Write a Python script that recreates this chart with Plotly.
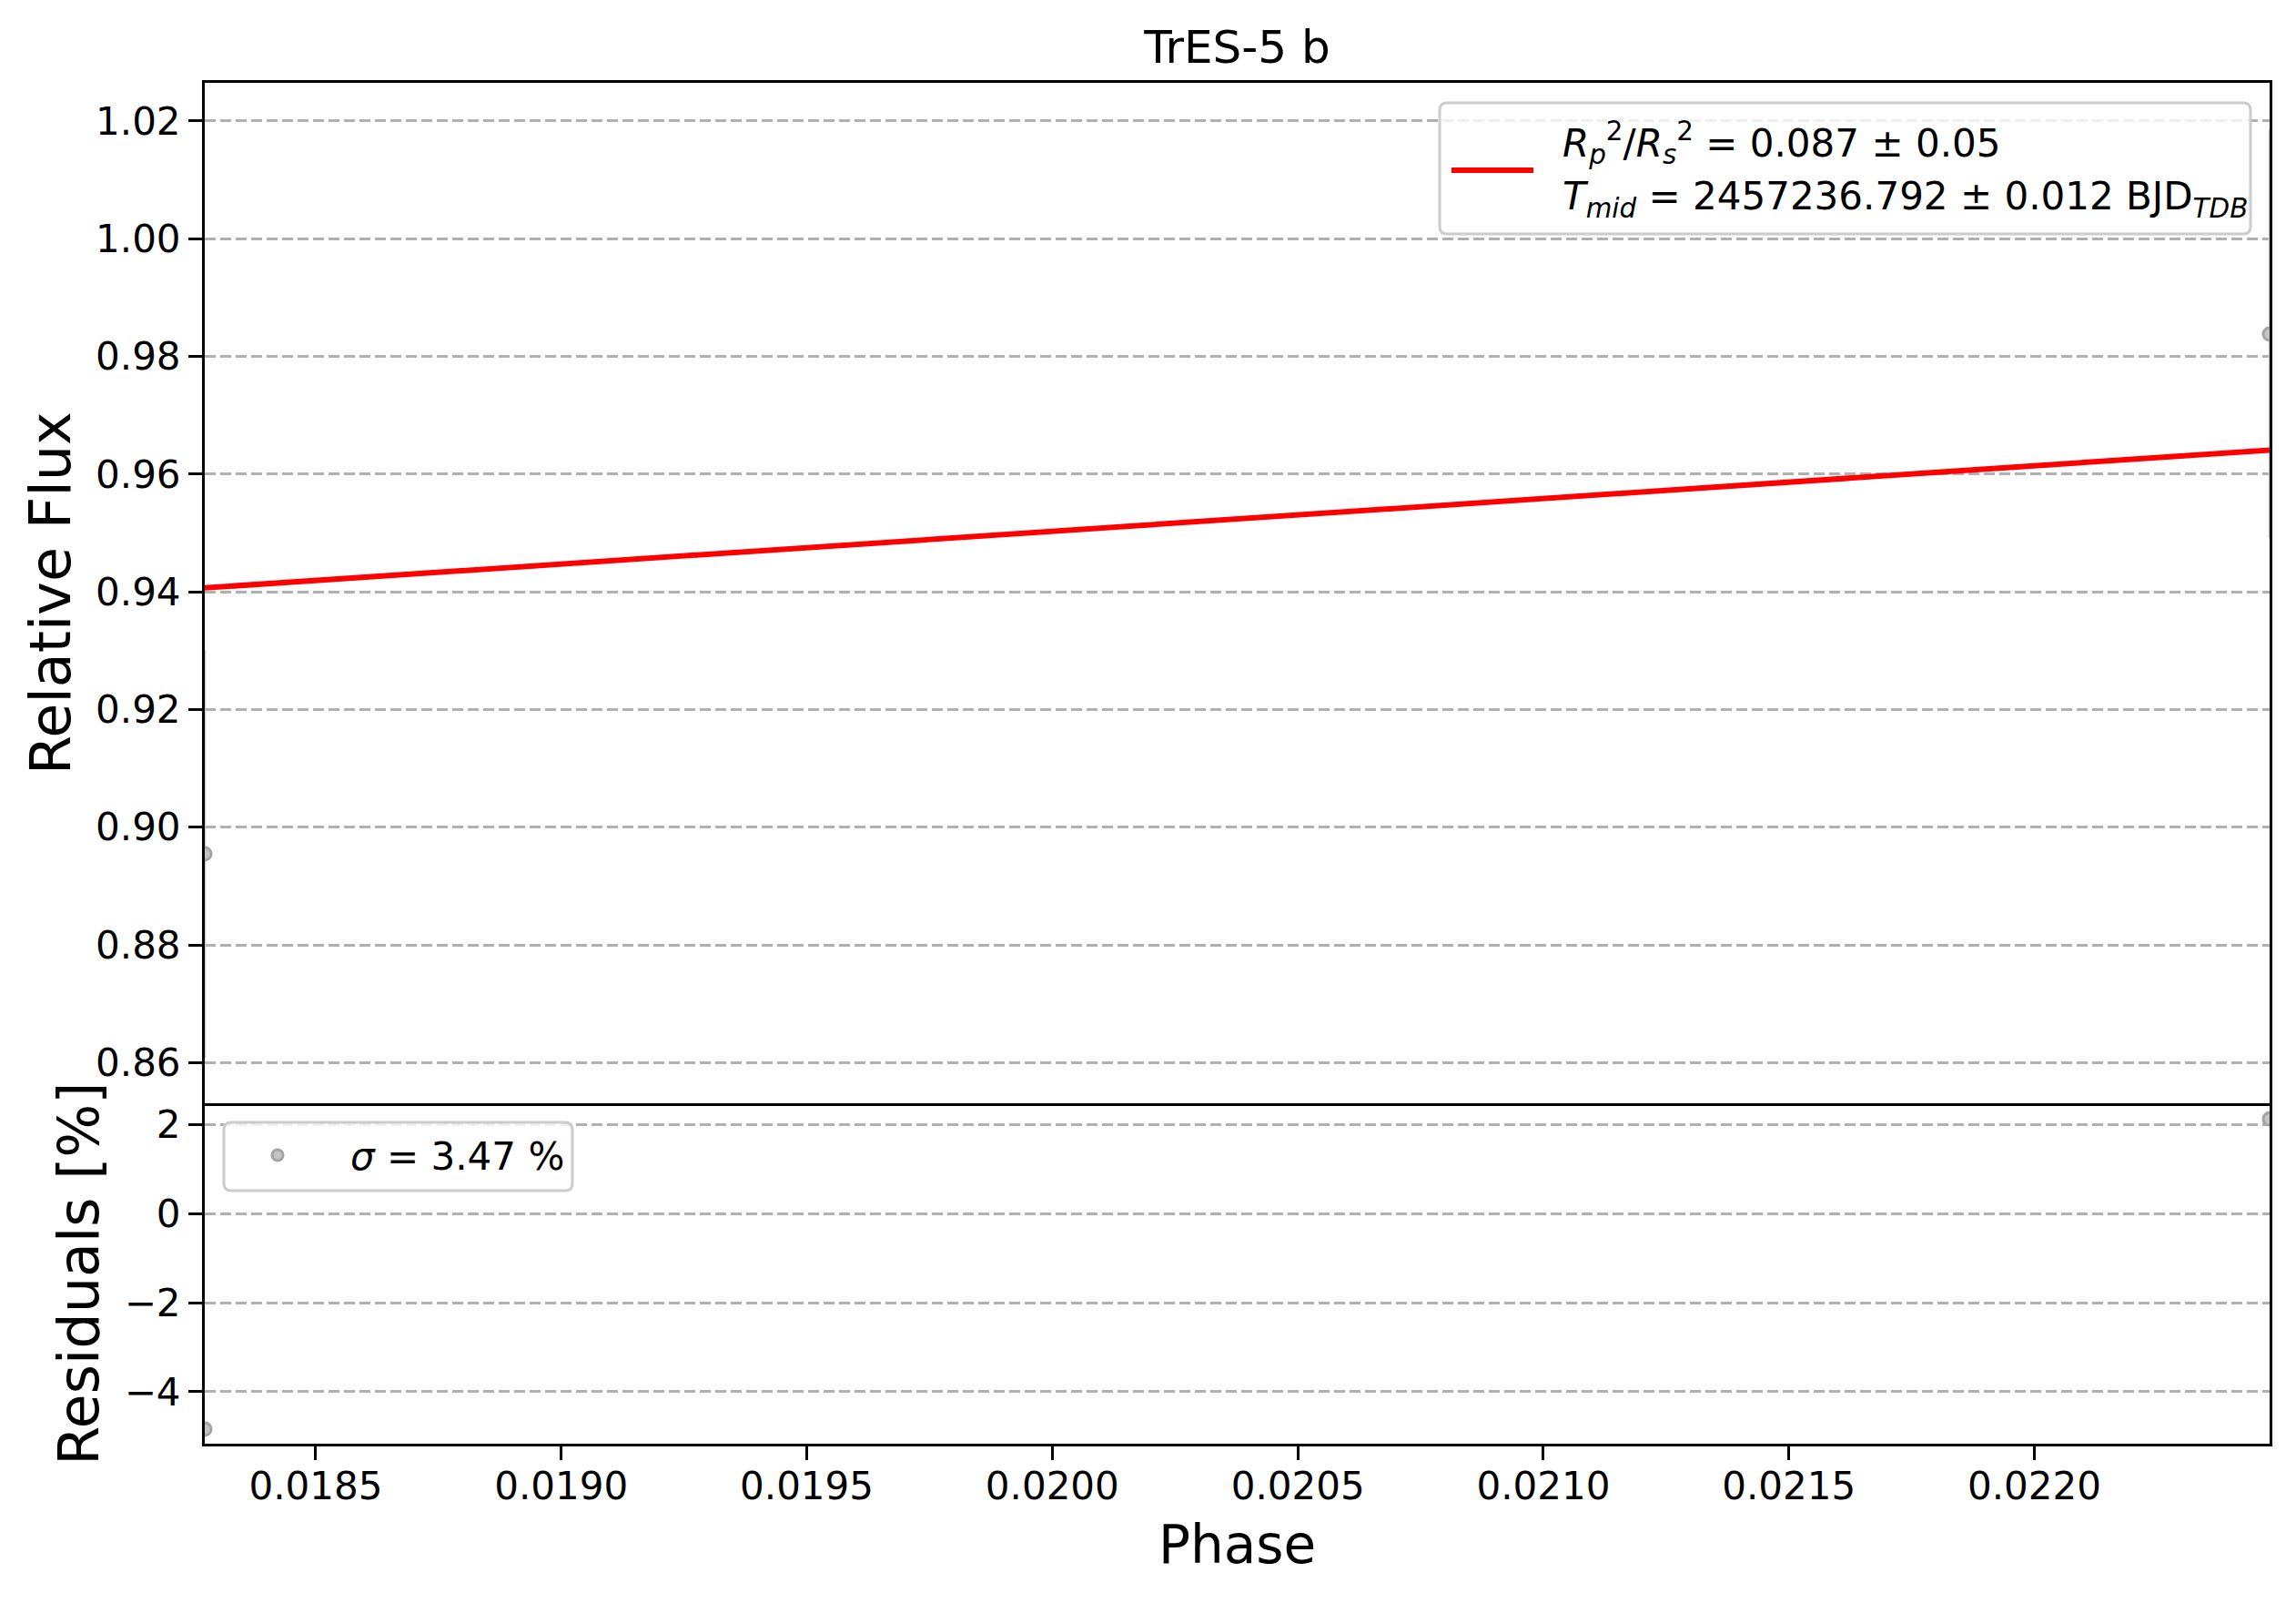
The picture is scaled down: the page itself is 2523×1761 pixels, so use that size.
import plotly.graph_objects as go
from plotly.subplots import make_subplots

# Light curve of TrES-5 b
phase = [0.018274, 0.022479]
rel_flux = [0.8955, 0.9838]
flux_err = [0.0347, 0.0347]
model_flux = [0.94067, 0.96408]
residuals = [-4.84, 2.13]

x_range = [0.018274, 0.022479]
flux_range = [0.85307, 1.02647]
resid_range = [-5.17, 2.48]

fit_line1 = ("<i>R</i><sub><i>p</i></sub><sup>2</sup>/<i>R</i><sub><i>s</i></sub><sup>2</sup>"
             " = 0.087 ± 0.05")
fit_line2 = "<i>T</i><sub><i>mid</i></sub> = 2457236.792 ± 0.012 BJD<sub><i>TDB</i></sub>"
resid_label = "<i>σ</i> = 3.47 %"

# page body has an 8px margin, plot area wanted at x 225..2494, y 91..1586
W, H = 2515, 1753
L, R, T, B = 217, 29, 83, 175
PX0, PX1, PY0, PY1 = 225, 2494, 91, 1586

PT_FILL = '#c4c4c4'
PT_EDGE = '#a4a4a4'


def px(x):
    return (x - PX0) / (PX1 - PX0)


def py(y):
    return (PY1 - y) / (PY1 - PY0)


def round_box(x0, y0, x1, y1, r=8):
    # rounded rectangle in paper coords from pixel corners
    rx = r / (PX1 - PX0)
    ry = r / (PY1 - PY0)
    a, b, c, d = px(x0), py(y1), px(x1), py(y0)
    return (f"M{a+rx},{b} L{c-rx},{b} Q{c},{b} {c},{b+ry} L{c},{d-ry} Q{c},{d} {c-rx},{d} "
            f"L{a+rx},{d} Q{a},{d} {a},{d-ry} L{a},{b+ry} Q{a},{b} {a+rx},{b} Z")


fig = make_subplots(rows=2, cols=1, shared_xaxes=True,
                    row_heights=[0.75, 0.25], vertical_spacing=0)

# data with error bars
fig.add_trace(go.Scatter(
    x=phase, y=rel_flux, mode='markers', showlegend=False,
    marker=dict(size=14, color=PT_FILL, line=dict(color=PT_EDGE, width=3)),
    error_y=dict(type='data', array=flux_err, color='#c8c8c8', thickness=2.5, width=0),
), row=1, col=1)

# transit model
fig.add_trace(go.Scatter(
    x=phase, y=model_flux, mode='lines', showlegend=False,
    line=dict(color='red', width=6),
), row=1, col=1)

# residuals
fig.add_trace(go.Scatter(
    x=phase, y=residuals, mode='markers', showlegend=False,
    marker=dict(size=14, color=PT_FILL, line=dict(color=PT_EDGE, width=3)),
), row=2, col=1)

axis_style = dict(showline=True, linecolor='black', linewidth=3, mirror=True,
                  ticks='outside', ticklen=15, tickwidth=3, tickcolor='black',
                  zeroline=False)
grid_style = dict(showgrid=True, gridcolor='#b0b0b0', gridwidth=2.5, griddash='12px,5px')

fig.update_xaxes(**axis_style, range=x_range, showgrid=False)
fig.update_xaxes(showticklabels=False, ticks='', row=1, col=1)
fig.update_xaxes(dtick=0.0005, tick0=0, tickformat='.4f', ticklabelstandoff=-7,
                 mirror=False,
                 title=dict(text='Phase', font=dict(size=58), standoff=20),
                 row=2, col=1)

fig.update_yaxes(**axis_style, **grid_style, ticklabelstandoff=0)
fig.update_yaxes(range=flux_range, dtick=0.02, tick0=0, tickformat='.2f',
                 title=dict(text='Relative Flux', font=dict(size=62), standoff=8),
                 row=1, col=1)
fig.update_yaxes(range=resid_range, dtick=2, tick0=0,
                 title=dict(text='Residuals [%]', font=dict(size=62), standoff=8),
                 row=2, col=1)

# legend boxes drawn by hand to mimic matplotlib's frame
box_line = dict(color='#cccccc', width=3)
shapes = [
    dict(type='path', xref='paper', yref='paper', path=round_box(1582, 113, 2473, 257),
         fillcolor='rgba(255,255,255,0.8)', line=box_line, layer='above'),
    dict(type='line', xref='paper', yref='paper', x0=px(1595), x1=px(1685),
         y0=py(187), y1=py(187), line=dict(color='red', width=6), layer='above'),
    dict(type='path', xref='paper', yref='paper', path=round_box(246, 1233, 629, 1308),
         fillcolor='rgba(255,255,255,0.8)', line=box_line, layer='above'),
    dict(type='circle', xref='paper', yref='paper', x0=px(299), x1=px(311),
         y0=py(1275), y1=py(1263), fillcolor=PT_FILL,
         line=dict(color=PT_EDGE, width=3), layer='above'),
]
annotations = [
    dict(text=fit_line1, x=px(1715), y=py(157), xref='paper', yref='paper',
         xanchor='left', yanchor='middle', showarrow=False, font=dict(size=42)),
    dict(text=fit_line2, x=px(1715), y=py(218), xref='paper', yref='paper',
         xanchor='left', yanchor='middle', showarrow=False, font=dict(size=42)),
    dict(text=resid_label, x=px(383), y=py(1270), xref='paper', yref='paper',
         xanchor='left', yanchor='middle', showarrow=False, font=dict(size=42)),
]

fig.update_layout(
    width=W, height=H,
    margin=dict(l=L, r=R, t=T, b=B),
    paper_bgcolor='white', plot_bgcolor='white',
    font=dict(family='DejaVu Sans', size=42, color='black'),
    title=dict(text='TrES-5 b', x=0.5, xref='paper', xanchor='center',
               y=1 - 43 / H, yref='container', yanchor='middle',
               font=dict(size=50)),
    shapes=shapes,
    annotations=annotations,
    showlegend=False,
)

fig.write_html("out.html")
